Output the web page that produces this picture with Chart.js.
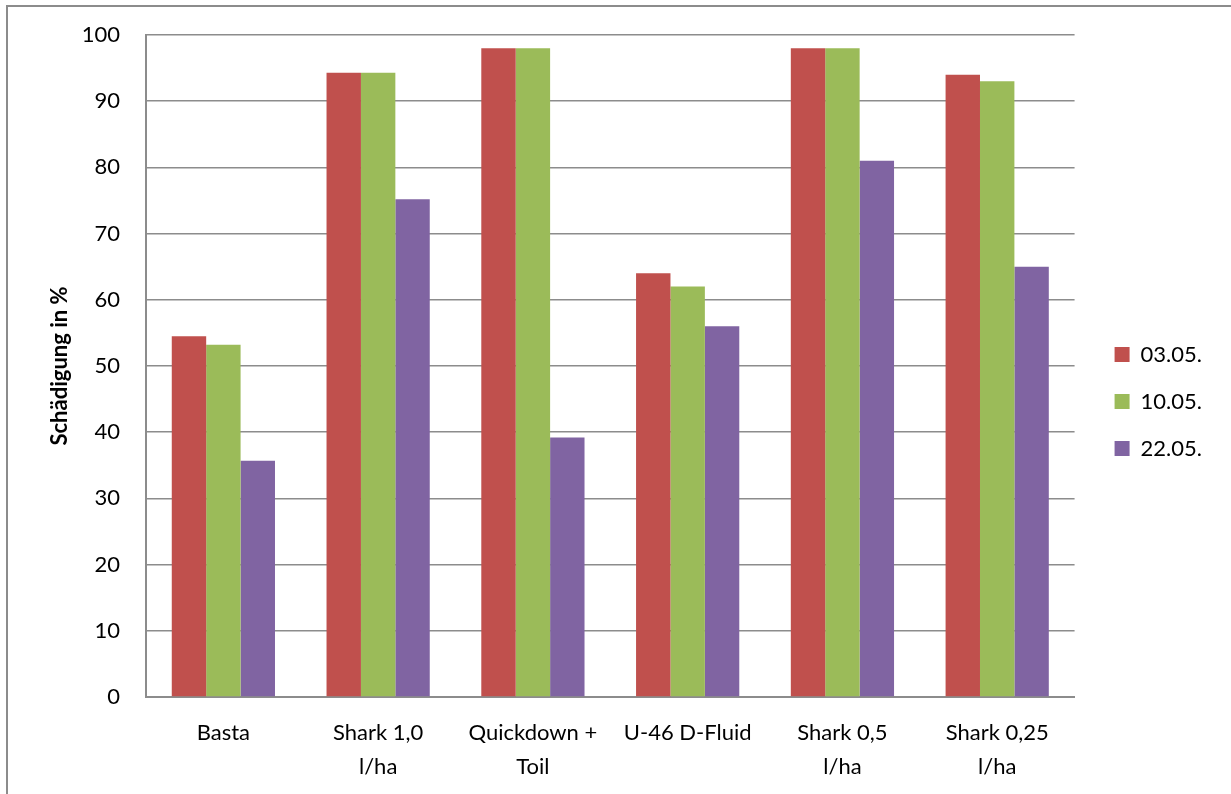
<!DOCTYPE html>
<html>
<head>
<meta charset="utf-8">
<script src="https://cdn.jsdelivr.net/npm/chart.js@4"></script>
<style>
  html, body { margin: 0; padding: 0; background: #fff; overflow: hidden; }
  #frame { position: absolute; left: 6px; top: 5px; width: 2000px; height: 2000px; border: 2px solid #8c8c8c; }
  #wrap { position: absolute; left: 0; top: 0; width: 1231px; height: 794px; }
</style>
</head>
<body>
<div id="frame"></div>
<div id="wrap"><canvas id="chart" width="1231" height="794"></canvas></div>
<script>
// categories (x axis), multi-line labels as in the original
const categories = ['Basta', ['Shark 1,0', 'l/ha'], ['Quickdown +', 'Toil'], 'U-46 D-Fluid', ['Shark 0,5', 'l/ha'], ['Shark 0,25', 'l/ha']];

// damage in % per date
const dates = ['03.05.', '10.05.', '22.05.'];
const v0305 = [54.5, 94.3, 98, 64, 98, 94];
const v1005 = [53.2, 94.3, 98, 62, 98, 93];
const v2205 = [35.7, 75.2, 39.2, 56, 81, 65];

const colors = ['#C0504D', '#9BBB59', '#8064A2'];
const font = 'Lato, "Liberation Sans", sans-serif';
const gridColor = '#8c8c8c';

// nudge the legend a bit right and up, the way excel places it
const legendShift = {
    id: 'legendShift',
    afterLayout(chart) {
        const lg = chart.legend;
        lg.left += 15; lg.right += 15;
        lg.top -= 13; lg.bottom -= 13;
    }
};

new Chart(document.getElementById('chart'), {
    type: 'bar',
    data: {
        labels: categories,
        datasets: [v0305, v1005, v2205].map((vals, i) => ({
            label: dates[i],
            data: vals,
            backgroundColor: colors[i],
            categoryPercentage: 0.667,
            barPercentage: 1
        }))
    },
    options: {
        responsive: false,
        animation: false,
        layout: { padding: { left: 43, top: 35, right: 34, bottom: 0 } },
        plugins: {
            tooltip: { enabled: false },
            legend: {
                position: 'right',
                labels: {
                    boxWidth: 15,
                    boxHeight: 15,
                    padding: 25,
                    color: '#000',
                    font: { family: font, size: 22 }
                }
            }
        },
        scales: {
            x: {
                grid: { display: false },
                border: { color: gridColor, width: 2 },
                ticks: {
                    color: '#000',
                    padding: 11,
                    maxRotation: 0,
                    autoSkip: false,
                    font: { family: font, size: 22, lineHeight: 1.55 }
                },
                afterFit: s => { s.height = 97; }
            },
            y: {
                min: 0,
                max: 100,
                grid: { color: gridColor, lineWidth: 1.5, drawTicks: false },
                border: { color: gridColor, width: 2 },
                ticks: {
                    stepSize: 10,
                    color: '#000',
                    padding: 26,
                    font: { family: font, size: 22 }
                },
                title: {
                    display: true,
                    text: 'Schädigung in %',
                    color: '#000',
                    font: { family: font, size: 22, weight: 'bold' }
                },
                afterFit: s => { s.width = 103; s.paddingTop = 0; s.paddingBottom = 0; }
            }
        }
    },
    plugins: [legendShift]
});
</script>
</body>
</html>
